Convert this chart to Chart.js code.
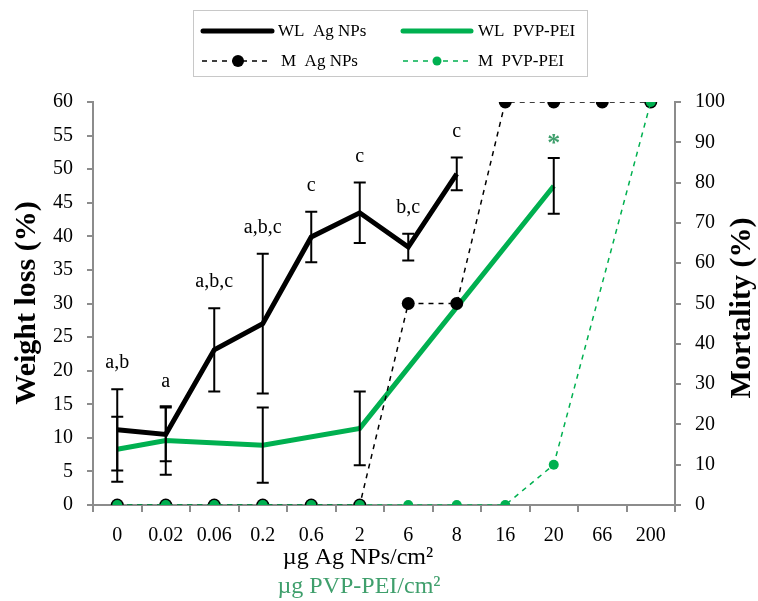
<!DOCTYPE html>
<html>
<head>
<meta charset="utf-8">
<script src="https://cdn.jsdelivr.net/npm/chart.js@4.4.1/dist/chart.umd.min.js"></script>
<style>
  html, body { margin: 0; padding: 0; background: #fff; }
  #wrap { width: 758px; height: 601px; }
</style>
</head>
<body>
<div id="wrap"><canvas id="lossChart" width="758" height="601"></canvas></div>
<script>
/******************************************************************
DATA
******************************************************************/
var doses = ['0', '0.02', '0.06', '0.2', '0.6', '2', '6', '8', '16', '20', '66', '200'];

var wlAg      = [11.2, 10.5, 23.1, 27.0, 39.9, 43.5, 38.4, 49.3, null, null, null, null];
var wlAgErr   = [6.05, 4.0, 6.2, 10.4, 3.75, 4.5, 2.0, 2.45, null, null, null, null];
var wlAgTags  = ['a,b', 'a', 'a,b,c', 'a,b,c', 'c', 'c', 'b,c', 'c', '', '', '', ''];

var wlPvp     = [8.3, 9.6, null, 8.9, null, 11.4, null, null, null, 47.5, null, null];
var wlPvpErr  = [4.85, 5.1, null, 5.6, null, 5.5, null, null, null, 4.15, null, null];
var wlPvpTags = ['', '', '', '', '', '', '', '', '', '*', '', ''];

var mAg  = [0, 0, 0, 0, 0, 0, 50, 50, 100, 100, 100, 100];
var mPvp = [0, 0, 0, 0, 0, 0, 0, 0, 0, 10, null, 100];

var leftTicks = [0, 5, 10, 15, 20, 25, 30, 35, 40, 45, 50, 55, 60];
var rightTicks = [0, 10, 20, 30, 40, 50, 60, 70, 80, 90, 100];

var BLACK = '#000000';
var GREEN = '#00b050';
var SOFT_GREEN = '#3f9f6c';
var AXIS = '#8c8c8c';
var SERIF = '"Liberation Serif", "DejaVu Serif", serif';

/******************************************************************
PLUGINS
******************************************************************/
// error bars + letter tags above the weight-loss series
var errorBars = {
  id: 'errorBars',
  afterDatasetsDraw: function (chart) {
    var ctx = chart.ctx;
    var x = chart.scales.x, y = chart.scales.y;
    var sets = [
      { vals: wlAg, err: wlAgErr, tags: wlAgTags, tagColor: BLACK, font: '20px ' + SERIF },
      { vals: wlPvp, err: wlPvpErr, tags: wlPvpTags, tagColor: SOFT_GREEN, font: 'bold 26px ' + SERIF }
    ];
    ctx.save();
    sets.forEach(function (s) {
      for (var i = 0; i < doses.length; i++) {
        if (s.vals[i] == null || s.err[i] == null) continue;
        var px = x.getPixelForValue(i);
        var top = y.getPixelForValue(s.vals[i] + s.err[i]);
        var bot = y.getPixelForValue(s.vals[i] - s.err[i]);
        ctx.strokeStyle = BLACK;
        ctx.lineWidth = 2;
        ctx.beginPath();
        ctx.moveTo(px, top); ctx.lineTo(px, bot);
        ctx.moveTo(px - 6, top); ctx.lineTo(px + 6, top);
        ctx.moveTo(px - 6, bot); ctx.lineTo(px + 6, bot);
        ctx.stroke();
        if (s.tags[i]) {
          ctx.fillStyle = s.tagColor;
          ctx.font = s.font;
          ctx.textAlign = 'center';
          ctx.textBaseline = 'middle';
          var off = s.tags[i] === '*' ? 14 : 26;
          ctx.fillText(s.tags[i], px, top - off);
        }
      }
    });
    ctx.restore();
  }
};

// legend box and axis titles
var extras = {
  id: 'extras',
  afterDraw: function (chart) {
    var ctx = chart.ctx;
    var area = chart.chartArea;
    ctx.save();
    // legend frame
    ctx.strokeStyle = '#c8c8c8';
    ctx.lineWidth = 1;
    ctx.strokeRect(193.5, 10.5, 394, 66);

    ctx.lineCap = 'round';
    ctx.lineWidth = 5;
    ctx.strokeStyle = BLACK;
    ctx.beginPath(); ctx.moveTo(203, 31); ctx.lineTo(272, 31); ctx.stroke();
    ctx.strokeStyle = GREEN;
    ctx.beginPath(); ctx.moveTo(403, 31); ctx.lineTo(471, 31); ctx.stroke();

    ctx.lineCap = 'butt';
    ctx.lineWidth = 1.5;
    ctx.setLineDash([5, 5]);
    ctx.strokeStyle = BLACK;
    ctx.beginPath(); ctx.moveTo(202, 61); ctx.lineTo(268, 61); ctx.stroke();
    ctx.strokeStyle = GREEN;
    ctx.beginPath(); ctx.moveTo(403, 61); ctx.lineTo(469, 61); ctx.stroke();
    ctx.setLineDash([]);
    ctx.fillStyle = BLACK;
    ctx.beginPath(); ctx.arc(238, 61, 6, 0, Math.PI * 2); ctx.fill();
    ctx.fillStyle = GREEN;
    ctx.beginPath(); ctx.arc(437, 61, 4.5, 0, Math.PI * 2); ctx.fill();

    ctx.fillStyle = BLACK;
    ctx.font = '17px ' + SERIF;
    ctx.textAlign = 'left';
    ctx.textBaseline = 'middle';
    ctx.fillText('WL  Ag NPs', 278, 32);
    ctx.fillText('WL  PVP-PEI', 478, 32);
    ctx.fillText('M  Ag NPs', 281, 62);
    ctx.fillText('M  PVP-PEI', 478, 62);

    // y titles, both read bottom to top
    ctx.font = 'bold 30px ' + SERIF;
    ctx.textAlign = 'center';
    ctx.save();
    ctx.translate(27, 303);
    ctx.rotate(-Math.PI / 2);
    ctx.fillText('Weight loss (%)', 0, 0);
    ctx.restore();
    ctx.save();
    ctx.translate(742, 308);
    ctx.rotate(-Math.PI / 2);
    ctx.fillText('Mortality (%)', 0, 0);
    ctx.restore();

    // x titles, two lines
    ctx.font = '24px ' + SERIF;
    ctx.fillText('\u00b5g Ag NPs/cm\u00b2', 358, 558);
    ctx.fillStyle = SOFT_GREEN;
    ctx.fillText('\u00b5g PVP-PEI/cm\u00b2', 359, 587);
    ctx.restore();
  }
};

/******************************************************************
CHART
******************************************************************/
var ctx = document.getElementById('lossChart').getContext('2d');
var chart = new Chart(ctx, {
  type: 'line',
  data: {
    labels: doses,
    datasets: [
      {
        label: 'M  PVP-PEI', data: mPvp, yAxisID: 'y2', order: 0,
        borderColor: GREEN, borderWidth: 1.5, borderDash: [5, 5],
        pointRadius: 5, pointBackgroundColor: GREEN, pointBorderWidth: 0,
        spanGaps: true, tension: 0
      },
      {
        label: 'M  Ag NPs', data: mAg, yAxisID: 'y2', order: 1,
        borderColor: BLACK, borderWidth: 1.5, borderDash: [5, 5],
        pointRadius: 6.5, pointBackgroundColor: BLACK, pointBorderWidth: 0,
        tension: 0
      },
      {
        label: 'WL  Ag NPs', data: wlAg, yAxisID: 'y', order: 2,
        borderColor: BLACK, borderWidth: 5, pointRadius: 0,
        borderJoinStyle: 'miter', tension: 0
      },
      {
        label: 'WL  PVP-PEI', data: wlPvp, yAxisID: 'y', order: 3,
        borderColor: GREEN, borderWidth: 5, pointRadius: 0,
        spanGaps: true, borderJoinStyle: 'miter', tension: 0
      }
    ]
  },
  options: {
    responsive: false,
    animation: false,
    layout: { padding: { top: 102, left: 0, right: 0, bottom: 0 } },
    plugins: {
      legend: { display: false },
      tooltip: { enabled: false }
    },
    scales: {
      x: {
        offset: true,
        grid: { display: true, drawOnChartArea: false, offset: true, color: AXIS, tickLength: 7, lineWidth: 2 },
        border: { color: AXIS, width: 2 },
        ticks: { color: BLACK, font: { family: SERIF, size: 20 }, padding: 12, maxRotation: 0, autoSkip: false },
        afterFit: function (s) { s.height = 96; }
      },
      y: {
        position: 'left',
        min: 0, max: 60,
        afterBuildTicks: function (s) { s.ticks = leftTicks.map(function (v) { return { value: v }; }); },
        grid: { display: true, drawOnChartArea: false, color: AXIS, tickLength: 6, lineWidth: 2 },
        border: { color: AXIS, width: 2 },
        ticks: { color: BLACK, font: { family: SERIF, size: 20 }, padding: 14 },
        afterFit: function (s) { s.width = 93; }
      },
      y2: {
        position: 'right',
        min: 0, max: 100,
        afterBuildTicks: function (s) { s.ticks = rightTicks.map(function (v) { return { value: v }; }); },
        grid: { display: true, drawOnChartArea: false, color: AXIS, tickLength: 6, lineWidth: 2 },
        border: { color: AXIS, width: 2 },
        ticks: { color: BLACK, font: { family: SERIF, size: 20 }, padding: 14 },
        afterFit: function (s) { s.width = 83; }
      }
    }
  },
  plugins: [errorBars, extras]
});
</script>
</body>
</html>
